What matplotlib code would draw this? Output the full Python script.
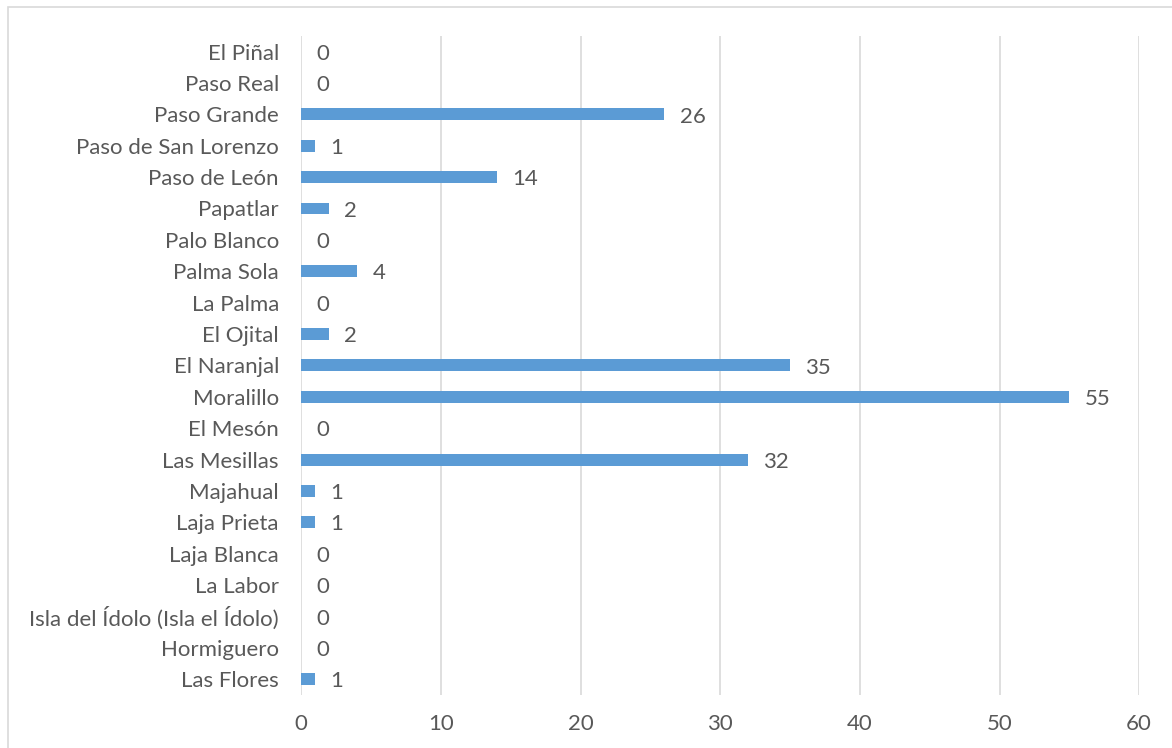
import matplotlib
matplotlib.use('Agg')
import matplotlib.pyplot as plt
from matplotlib.patches import Rectangle

plt.rcParams['font.family'] = ['Lato', 'DejaVu Sans']

localidades = ['El Piñal', 'Paso Real', 'Paso Grande', 'Paso de San Lorenzo',
               'Paso de León', 'Papatlar', 'Palo Blanco', 'Palma Sola',
               'La Palma', 'El Ojital', 'El Naranjal', 'Moralillo', 'El Mesón',
               'Las Mesillas', 'Majahual', 'Laja Prieta', 'Laja Blanca',
               'La Labor', 'Isla del Ídolo (Isla el Ídolo)', 'Hormiguero',
               'Las Flores']
valores = [0, 0, 26, 1, 14, 2, 0, 4, 0, 2, 35, 55, 0, 32, 1, 1, 0, 0, 0, 0, 1]
xticks = [0, 10, 20, 30, 40, 50, 60]

gray = '#595959'
fs = 16
fig = plt.figure(figsize=(11.72, 7.48), dpi=100)
ax = fig.add_axes([0.257, 0.071, 0.715, 0.881])

n = len(localidades)
ypos = list(range(n - 1, -1, -1))
ax.barh(ypos, valores, height=0.38, color='#5B9BD5', zorder=3)
for y, v in zip(ypos, valores):
    ax.text(v + 1.1, y - 0.07, str(v), va='center', ha='left', fontsize=fs, color=gray)

ax.set_xlim(0, 60)
ax.set_ylim(-0.5, n - 0.5)
ax.set_xticks(xticks)
ax.set_yticks(ypos)
ax.set_yticklabels(localidades)
ax.tick_params(axis='both', length=0, labelsize=fs, colors=gray)
ax.tick_params(axis='x', pad=14)
ax.tick_params(axis='y', pad=16)
ax.grid(axis='x', color='#D9D9D9', lw=1.2, zorder=0)
for s in ax.spines.values():
    s.set_visible(False)

# outer chart border
fig.patches.append(Rectangle((8 / 1172, -0.01), 1.1, 1 - 7 / 748 + 0.01,
                             transform=fig.transFigure, fill=False,
                             edgecolor='#D9D9D9', lw=1.2))

fig.savefig('out.png', dpi=100)
